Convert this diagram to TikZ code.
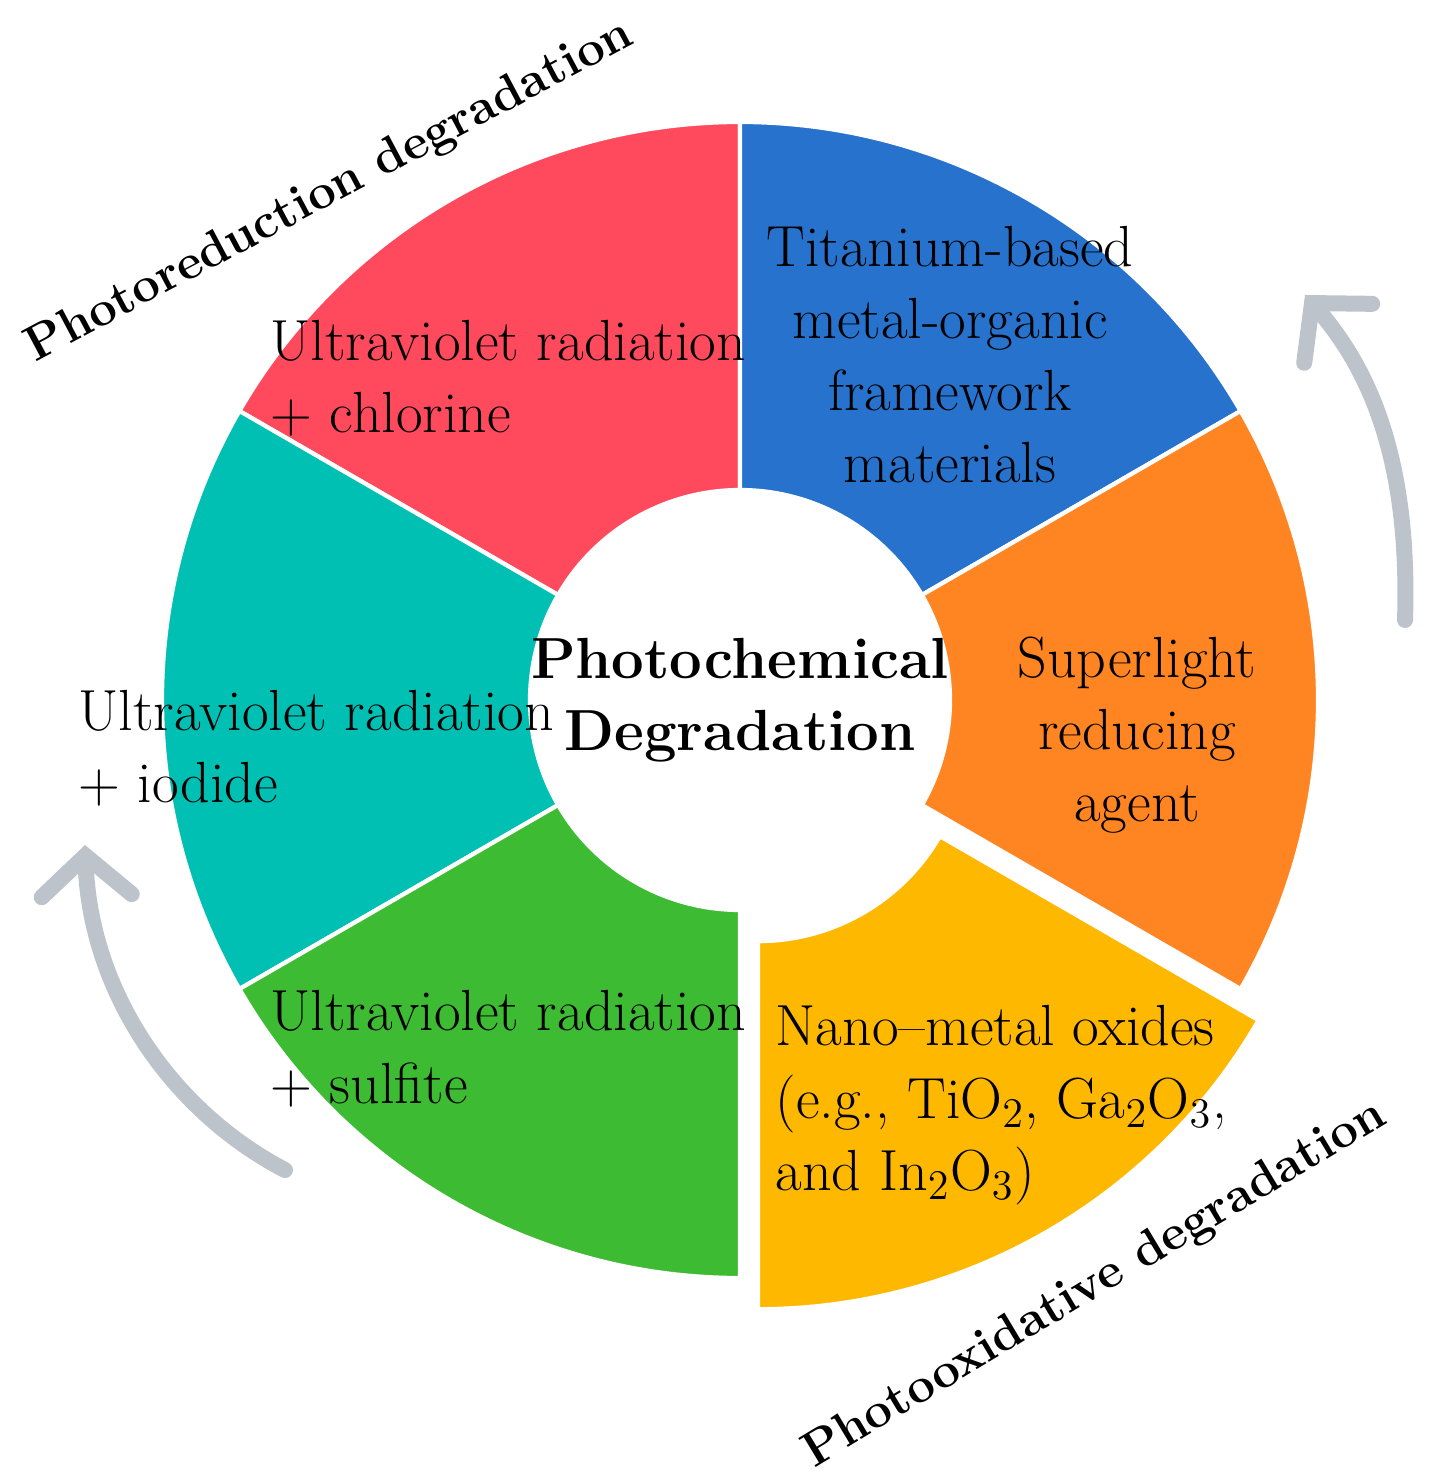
\documentclass[tikz,border=0pt]{standalone}
\usetikzlibrary{arrows.meta}
\definecolor{segred}{HTML}{FF4A5E}
\definecolor{segblue}{HTML}{2672CC}
\definecolor{segorange}{HTML}{FF8422}
\definecolor{segyellow}{HTML}{FFB800}
\definecolor{seggreen}{HTML}{3DBB32}
\definecolor{segteal}{HTML}{00BFB3}
\definecolor{arrowgray}{HTML}{BCC3CB}
\tikzset{
	seg/.style={draw=white, line width=1.2pt},
	lbl/.style={font=\fontsize{16.5}{20.5}\selectfont, inner sep=0pt},
	cyc/.style={draw=arrowgray, line width=1.6mm, line cap=round, -{Straight Barb[length=4mm, width=9mm, line width=1.6mm, line cap=round]}}
}
\begin{document}
\begin{tikzpicture}
	\useasboundingbox (0,0) rectangle (14.33,-14.82);
	\coordinate (O) at (7.4,-7.0);
	
	% donut sectors
	\begin{scope}[shift={(O)}]
	\foreach \a/\b/\c in {90/150/segred, 30/90/segblue, -30/30/segorange, 150/210/segteal, 210/270/seggreen}
		\filldraw[seg, fill=\c] (\a:2.1) arc[start angle=\a, end angle=\b, radius=2.1] -- (\b:5.78) arc[start angle=\b, end angle=\a, radius=5.78] -- cycle;
	\filldraw[seg, fill=segyellow, shift={(-60:0.36)}] (-90:2.1) arc[start angle=-90, end angle=-30, radius=2.1] -- (-30:5.78) arc[start angle=-30, end angle=-90, radius=5.78] -- cycle;
	\end{scope}
	
	% labels
	\node[lbl, align=center, font=\fontsize{16.5}{20.5}\bfseries] (center) at (O) {Photochemical\\Degradation};
	\node[lbl, align=left, anchor=north west] (chlorine) at (2.7,-3.2) {Ultraviolet radiation\\+ chlorine};
	\node[lbl, align=center] (titanium) at (9.5,-3.55) {Titanium-based\\metal-organic\\framework\\materials};
	\node[lbl, align=center] (superlight) at (11.37,-7.35) {Superlight\\reducing\\agent};
	\node[lbl, align=left, anchor=north west] (iodide) at (0.78,-6.9) {Ultraviolet radiation\\+ iodide};
	\node[lbl, align=left, anchor=north west] (sulfite) at (2.7,-9.9) {Ultraviolet radiation\\+ sulfite};
	\node[lbl, align=left, anchor=north west] (oxides) at (7.75,-10.05) {Nano--metal oxides\\(e.g., TiO$_2$, Ga$_2$O$_3$,\\and In$_2$O$_3$)};
	
	\node[font=\fontsize{14}{17}\bfseries, rotate=28] (reduction) at (3.3,-1.92) {Photoreduction degradation};
	\node[font=\fontsize{14}{17}\bfseries, rotate=31] (oxidation) at (10.95,-12.85) {Photooxidative degradation};
	
	% cycle arrows
	\coordinate (rs) at (14.05,-6.2);
	\coordinate (re) at (13.05,-2.95);
	\coordinate (ls) at (2.85,-11.7);
	\coordinate (le) at (0.85,-8.45);
	\draw[cyc] (rs) .. controls (14.1,-4.6) and (13.7,-3.7) .. (re);
	\draw[cyc] (ls) .. controls (1.7,-11.1) and (0.9,-9.9) .. (le);
\end{tikzpicture}
\end{document}
